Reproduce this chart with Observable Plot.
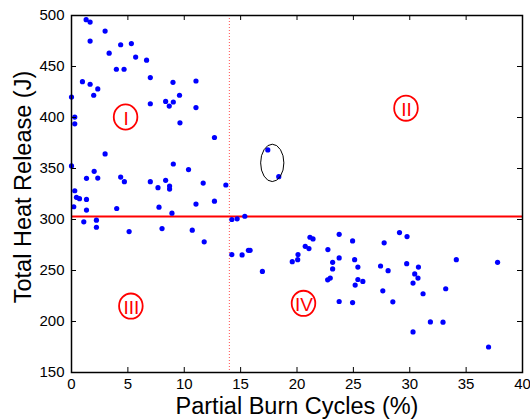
<!DOCTYPE html>
<html>
<head>
<meta charset="utf-8">
<script src="https://cdn.jsdelivr.net/npm/d3@7"></script>
<script src="https://cdn.jsdelivr.net/npm/@observablehq/plot@0.6"></script>
<style>
  html, body { margin: 0; padding: 0; background: #fff; }
  #chart { width: 530px; height: 419px; }
</style>
</head>
<body>
<div id="chart"></div>
<script>
// Partial burn cycles (%) and total heat release (J) for each cycle
const partialBurn = [
  0, 1.30, 1.65, 1.65, 2.98, 3.34, 4.36, 5.31, 5.69, 6.66,
  3.98, 4.66, 6.99, 0.97, 1.65, 2.33, 1.97, 9.0, 8.35, 8.67,
  9.03, 9.58, 6.99, 0.29, 0.29, 9.62, 2.98, 11.04, 11.04, 12.68,
  9.03, 10.38, 8.35, 8.70, 8.70, 11.68, 13.69, 11.04, 12.68, 8.91,
  8.03, 10.71, 11.77, 0, 2.01, 1.33, 2.33, 0.29, 0.44, 0.71,
  1.33, 0.20, 1.33, 4.01, 1.09, 2.21, 2.21, 5.11, 4.36, 4.69,
  6.99, 7.67, 7.76, 14.22, 14.69, 15.37, 17.41, 18.38, 14.22, 15.13,
  15.69, 15.84, 16.93, 21.15, 21.42, 20.73, 21.06, 20.09, 20.06, 19.58,
  23.74, 24.93, 22.74, 23.74, 23.16, 23.16, 22.72, 22.95, 25.11, 25.40,
  25.40, 25.84, 25.16, 23.74, 24.93, 27.73, 29.09, 29.76, 27.41, 28.08,
  29.73, 30.77, 30.44, 30.73, 30.29, 31.18, 27.61, 28.50, 33.19, 34.13,
  37.79, 31.83, 32.95, 30.29, 36.99
];
const heatRelease = [
  420.1, 495.9, 493.6, 474.9, 484.7, 463.1, 471.3, 472.5, 459.2, 456.2,
  447.3, 447.3, 439.1, 435.1, 432.6, 428.0, 421.8, 434.5, 415.8, 411.2,
  415.2, 421.8, 413.5, 400.4, 393.8, 394.8, 364.3, 435.8, 409.7, 380.4,
  354.4, 348.9, 338.4, 332.8, 329.8, 335.7, 333.8, 315.1, 318.0, 306.2,
  291.1, 289.5, 278.1, 352.5, 347.2, 340.4, 340.6, 328.2, 321.7, 320.4,
  319.7, 312.5, 309.2, 310.8, 297.7, 299.3, 292.4, 288.2, 341.6, 337.1,
  337.1, 331.2, 312.1, 300.0, 300.7, 303.2, 368.2, 342.0, 265.6, 265.3,
  269.8, 269.8, 249.1, 282.6, 281.0, 273.7, 271.5, 265.6, 260.6, 258.7,
  285.5, 279.0, 270.5, 262.3, 258.0, 251.5, 240.9, 242.6, 260.6, 253.4,
  241.2, 239.3, 235.7, 219.6, 218.6, 277.1, 287.2, 283.3, 254.4, 249.8,
  256.7, 253.4, 246.6, 242.6, 237.7, 227.2, 230.1, 219.3, 232.1, 260.6,
  258.0, 199.6, 199.3, 189.8, 175.0
];

// Thresholds
const heatThreshold = [303];
const burnThreshold = [14];

// Zone labels
const zoneLabels = ["I", "II", "III", "IV"];
const zoneX = [4.84, 29.71, 5.31, 20.62];
const zoneY = [400, 408.7, 214.6, 217.3];

// Highlighted pair
const highlightX = [17.85];
const highlightY = [355];
const highlightRX = [1.03];   // in data units (x)
const highlightRY = [18.3];   // in data units (y)

// Ticks
const xTicks = [0, 5, 10, 15, 20, 25, 30, 35, 40];
const yTicks = [150, 200, 250, 300, 350, 400, 450, 500];

const xLabel = "Partial Burn Cycles (%)";
const yLabel = "Total Heat Release (J)";

const points = partialBurn.map((x, i) => ({x, y: heatRelease[i]}));
const zones = zoneLabels.map((l, i) => ({label: l, x: zoneX[i], y: zoneY[i]}));

const W = 530, H = 419;
const mL = 71, mR = 8, mT = 15, mB = 47;
const plotW = W - mL - mR, plotH = H - mT - mB;
const font = "'Liberation Sans', Arial, Helvetica, sans-serif";

const plot = Plot.plot({
  width: W,
  height: H,
  marginLeft: mL,
  marginRight: mR,
  marginTop: mT,
  marginBottom: mB,
  style: {fontFamily: font, fontSize: "15px", color: "#000", background: "#fff"},
  x: {domain: [0, 40]},
  y: {domain: [150, 500]},
  marks: [
    Plot.ruleX(burnThreshold, {stroke: "#ff5050", strokeWidth: 1, strokeDasharray: "1,2"}),
    Plot.ruleY(heatThreshold, {stroke: "#ff0000", strokeWidth: 2}),
    Plot.dot(points, {x: "x", y: "y", r: 2.6, fill: "#0000ff", stroke: null}),
    Plot.text(zones, {x: "x", y: "y", text: "label", fill: "#ff0000", fontSize: 19, dy: 1.5, fontFamily: font}),
    Plot.tickX(xTicks, {x: d => d, insetTop: plotH - 5, stroke: "#000", strokeWidth: 1}),
    Plot.tickX(xTicks, {x: d => d, insetBottom: plotH - 5, stroke: "#000", strokeWidth: 1}),
    Plot.tickY(yTicks, {y: d => d, insetRight: plotW - 5, stroke: "#000", strokeWidth: 1}),
    Plot.tickY(yTicks, {y: d => d, insetLeft: plotW - 5, stroke: "#000", strokeWidth: 1}),
    Plot.axisX({ticks: xTicks, tickSize: 0, tickPadding: 6, label: null, fontSize: 15}),
    Plot.axisY({ticks: yTicks, tickSize: 0, tickPadding: 7, label: null, fontSize: 15}),
    Plot.frame({stroke: "#000", strokeWidth: 1.5}),
    Plot.text([xLabel], {frameAnchor: "bottom", lineAnchor: "middle", textAnchor: "middle", dy: 34, fontSize: 23.5, fill: "#000", fontFamily: font}),
    Plot.text([yLabel], {frameAnchor: "left", lineAnchor: "middle", textAnchor: "middle", rotate: -90, dx: -48, dy: -7, fontSize: 23.5, fill: "#000", fontFamily: font})
  ]
});

document.getElementById("chart").appendChild(plot);

// Annotation ellipses placed through the plot's own scales
const sx = plot.scale("x"), sy = plot.scale("y");
const svg = d3.select(plot);
svg.append("g").selectAll("ellipse")
  .data(zones)
  .join("ellipse")
  .attr("cx", d => sx.apply(d.x))
  .attr("cy", d => sy.apply(d.y))
  .attr("rx", 11.8)
  .attr("ry", 12.6)
  .attr("fill", "none")
  .attr("stroke", "#ff0000")
  .attr("stroke-width", 1.8);

svg.append("g").selectAll("ellipse")
  .data(highlightX.map((x, i) => ({x, y: highlightY[i], rx: highlightRX[i], ry: highlightRY[i]})))
  .join("ellipse")
  .attr("cx", d => sx.apply(d.x))
  .attr("cy", d => sy.apply(d.y))
  .attr("rx", d => Math.abs(sx.apply(d.x + d.rx) - sx.apply(d.x)))
  .attr("ry", d => Math.abs(sy.apply(d.y + d.ry) - sy.apply(d.y)))
  .attr("fill", "none")
  .attr("stroke", "#000")
  .attr("stroke-width", 1);
</script>
</body>
</html>
